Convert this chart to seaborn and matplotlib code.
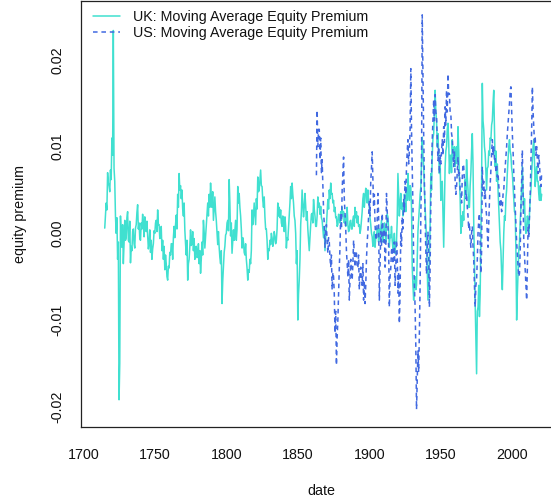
import numpy as np
import pandas as pd
import matplotlib
matplotlib.use("Agg")
import matplotlib.pyplot as plt
import seaborn as sns

# Moving-average equity premium, half-yearly readings in basis points (1e-4)
uk_start = 1715
uk_premium_bp = [
    6, 20, 35, 27, 70, 58, 55, 48, 73, 62,                                                  # 1715-1719
    110, 90, 234, 75, 60, 20, 0, 18, -30, -10, -192, -150, 20, -5, -16, 10, -35, -12, 15, -8,  # 1720s
    -5, 18, 25, -8, -10, 14, -34, -15, -20, 2, 5, -12, -17, 6, 10, 24, 33, 5, 12, -6,         # 1730s
    -8, 12, 5, 22, 10, -4, 19, 6, 2, 14, -3, -18, -12, 4, -22, -8, -30, -18, -12, 3,         # 1740s
    0, 12, 15, 2, 27, 10, 10, -6, -4, 8, -20, -8, -30, -15, -42, -25, -35, -50, -54, -38,    # 1750s
    -40, -22, -25, -12, -12, -30, -5, 8, -5, 10, 21, 5, 45, 30, 69, 50, 55, 40, 50, 28,      # 1760s
    20, 35, 4, -12, -25, -8, -54, -35, -30, -15, 4, -14, -12, 2, -20, -6, -30, -18, -15, -28,  # 1770s
    -27, -12, -35, -20, -46, -30, -10, -25, 15, 2, -17, -4, 10, 22, 35, 20, 45, 30, 58, 40,  # 1780s
    30, 48, 15, 28, 42, 25, 15, 0, -13, 2, -16, -28, -35, -20, -81, -55, -38, -22, -15, -2,  # 1790s
    0, 12, 15, 3, 62, 35, -3, 12, -23, -10, 4, -8, 4, 15, -8, 5, 54, 35, 46, 30,             # 1800s
    20, 5, -17, -5, -10, -22, -25, -12, -30, -40, -54, -42, -45, -30, -35, -20, 27, 10, 20, 35,  # 1810s
    23, 10, 40, 28, 65, 48, 50, 62, 73, 55, 54, 38, 30, 42, 19, 5, 5, -8, -30, -18,          # 1820s
    -20, -8, -13, 0, -5, -15, -10, 2, -3, -12, -8, 5, 35, 20, 30, 18, 27, 12, 8, 20,         # 1830s
    15, 2, 19, 8, -17, -5, -8, 6, 20, 35, 54, 40, 58, 45, 35, 20, 15, 0, -35, -20,           # 1840s
    -100, -70, -54, -30, 10, 25, 50, 35, 19, 30, 46, 32, 15, 25, 5, -8, -20, -5, 10, 22,     # 1850s
    23, 12, 39, 28, 20, 8, 8, 20, 42, 30, 35, 22, 31, 18, 15, 5, -5, 8, -20, -5,             # 1860s
    10, 25, 39, 28, 50, 40, 58, 45, 46, 35, 38, 25, 30, 18, 19, 8, 10, 22, 20, 12,           # 1870s
    25, 15, 30, 20, 25, 12, 20, 8, 20, 30, 10, 2, 4, 14, 15, 5, 5, 16, 20, 8,                # 1880s
    30, 18, 25, 12, 20, 8, 10, 0, 5, 15, 25, 40, 46, 30, 40, 52, 50, 35, 50, 38,             # 1890s
    30, 18, 10, 0, -4, -15, -10, 2, -16, -5, -5, 6, 2, -10, 5, -6, 5, 15, 0, -10,            # 1900s
    2, 12, 2, -10, 10, 22, 19, 5, -16, -2, -5, 8, -8, -18, -15, 0, -23, -10, -10, 15,        # 1910s
    69, 45, 20, 35, 46, 28, 35, 20, 30, 45, 40, 25, 53, 38, 69, 50, 38, 55, 53, 30,          # 1920s
    -39, -60, -77, -55, -50, -65, -60, -30, 2, 15, 30, 45, 53, 80, 111, 90, 77, 50, 30, 10,  # 1930s
    -8, -40, -77, -55, -30, 10, 69, 50, 90, 110, 115, 140, 165, 140, 130, 100, 115, 90, 69, 85,  # 1940s
    38, 55, 60, 20, -16, 30, 77, 95, 100, 120, 127, 105, 69, 90, 90, 70, 108, 85, 85, 100,   # 1950s
    77, 95, 100, 80, 123, 95, 62, 40, 0, 20, 8, 25, 15, 40, 62, 45, 85, 65, 50, 30,          # 1960s
    30, 55, 70, 95, 115, 80, 12, -30, -80, -120, -162, -90, -85, -60, -96, -70, -8, 60, 173, 130,  # 1970s
    120, 100, 92, 70, 50, 75, 77, 95, 90, 110, 108, 125, 130, 150, 165, 120, 77, 95, 60, 80,  # 1980s
    50, 30, 8, -10, -20, -45, -65, -30, 0, 20, 15, 40, 50, 70, 85, 100, 108, 95, 90, 75,     # 1990s
    69, 55, 40, 25, 23, -20, -100, -70, -46, -20, -10, 15, 30, 55, 77, 50, 23, 40, 10, 0,    # 2000s
    8, 20, 15, 2, 23, 40, 50, 70, 85, 100, 108, 80, 54, 70, 77, 60, 60, 45, 38, 55,          # 2010s
    38, 45,                                                                                   # 2020
]

us_start = 1863
us_premium_bp = [
    67, 142, 100, 120, 120, 85, 110, 70, 85, 55, 27, 10, -16, 5,                              # 1863-1869
    10, -10, -23, -5, -10, -28, -39, -25, -65, -45, -50, -70, -115, -90, -152, -120, -100, -70, -40, -15,  # 1870s
    23, 5, 50, 70, 88, 40, 23, 5, -20, -35, -50, -30, -77, -55, -30, -45, -54, -35, -8, -25,  # 1880s
    -39, -20, -23, -40, -40, -25, -65, -45, -39, -55, -60, -35, -77, -55, -81, -60, -30, -10, 2, 20,  # 1890s
    38, 20, 60, 75, 94, 60, 30, 45, 10, -5, -8, 15, 46, 20, -77, -40, 2, -15, 23, 5,         # 1900s
    -10, 5, -39, -20, 46, 25, 10, -15, -85, -50, -40, -20, -16, -35, -30, -10, -60, -40, -8, -25,  # 1910s
    -69, -45, -104, -70, 2, -15, 19, 5, 40, 25, 60, 45, 77, 95, 108, 80, 96, 120, 190, 120,  # 1920s
    77, 30, -30, -60, -85, -130, -203, -170, -135, -160, -115, -60, 19, 80, 252, 180, 115, 60, 19, -20,  # 1930s
    -47, -20, 2, -30, -85, -40, 38, 70, 108, 130, 154, 130, 160, 140, 134, 110, 84, 100, 69, 90,  # 1940s
    80, 95, 108, 90, 123, 105, 146, 125, 165, 140, 184, 160, 161, 140, 138, 115, 110, 90, 77, 95,  # 1950s
    60, 45, 54, 70, 88, 65, 70, 50, 50, 35, 65, 80, 77, 60, 60, 40, 46, 30, 20, 5,           # 1960s
    12, -5, -16, 0, 8, -15, -30, -60, -85, -60, -54, -30, 0, 15, 23, -10, -46, -20, 77, 50,  # 1970s
    60, 40, 50, 30, 20, 0, -16, 10, 38, 55, 70, 90, 108, 90, 100, 85, 88, 70, 80, 65,        # 1980s
    69, 55, 46, 30, 40, 25, 30, 45, 50, 65, 77, 90, 100, 115, 127, 140, 150, 165, 169, 140,  # 1990s
    115, 95, 70, 50, 30, 10, -10, -25, -38, -50, -46, -20, 30, 60, 96, 40, -8, -25, -40, -60,  # 2000s
    -77, -40, 8, -5, 20, 45, 80, 120, 169, 140, 123, 105, 110, 90, 100, 85, 69, 90, 80, 60,  # 2010s
    54, 70,                                                                                   # 2020
]

uk_label = "UK: Moving Average Equity Premium"
us_label = "US: Moving Average Equity Premium"
x_ticks = [1700, 1750, 1800, 1850, 1900, 1950, 2000]
y_ticks = [-0.02, -0.01, 0.0, 0.01, 0.02]
y_tick_labels = ["-0.02", "-0.01", "0.00", "0.01", "0.02"]

# two readings per year
uk = pd.DataFrame({
    "date": uk_start + 0.5 * np.arange(len(uk_premium_bp)),
    "premium": np.array(uk_premium_bp) / 1e4,
})
us = pd.DataFrame({
    "date": us_start + 0.5 * np.arange(len(us_premium_bp)),
    "premium": np.array(us_premium_bp) / 1e4,
})

sns.set_style("white")
plt.rcParams["font.family"] = ["Liberation Sans", "DejaVu Sans"]

W, H = 551, 504
fig = plt.figure(figsize=(W / 100, H / 100), dpi=100)
ax = fig.add_axes([81 / W, 77 / H, 481.4 / W, 426 / H])

sns.lineplot(data=uk, x="date", y="premium", color="#40E0D0", lw=1.1,
             ax=ax, label=uk_label)
sns.lineplot(data=us, x="date", y="premium", color="#4169E1", lw=1.1,
             linestyle=(0, (3, 2.5)), ax=ax, label=us_label)

ax.set_xlim(1698.4, 2035)
ax.set_ylim(-0.02234, 0.0268)
ax.set_xticks(x_ticks)
ax.set_xticklabels([str(t) for t in x_ticks])
ax.set_yticks(y_ticks)
ax.set_yticklabels(y_tick_labels, rotation=90, va="center")

fs = 10.3
ax.tick_params(axis="both", direction="out", length=6, width=0.9,
               colors="#222222", labelsize=fs, labelcolor="#111111")
ax.tick_params(axis="x", pad=9)
ax.tick_params(axis="y", pad=6)
for sp in ax.spines.values():
    sp.set_color("#222222")
    sp.set_linewidth(0.9)

ax.set_xlabel("date", fontsize=fs, color="#111111", labelpad=16)
ax.set_ylabel("equity premium", fontsize=fs, color="#111111", labelpad=17)

ax.legend(loc="upper left", bbox_to_anchor=(12 / 481.4, 0.978), frameon=False,
          fontsize=fs, handlelength=1.9, handletextpad=0.9, labelspacing=0.12,
          borderpad=0, borderaxespad=0, labelcolor="#111111")

fig.savefig("out.png", dpi=100)
